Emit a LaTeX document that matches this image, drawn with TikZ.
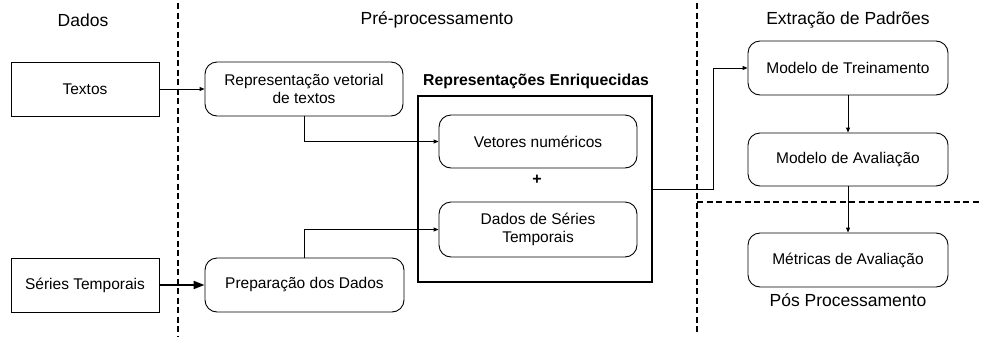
\documentclass[tikz,border=0pt]{standalone}
\usepackage{fontspec}
\setmainfont{Liberation Sans}
\usetikzlibrary{arrows.meta,positioning,calc}
\begin{document}
\begin{tikzpicture}[x=1pt,y=-1pt,
  plainbox/.style={draw,line width=0.9pt,minimum width=148pt,minimum height=54pt,inner sep=0pt,font=\fontsize{15.5}{18}\selectfont,align=center},
  roundbox/.style={draw,line width=0.9pt,rounded corners=12pt,minimum width=198pt,minimum height=54pt,inner sep=0pt,font=\fontsize{15.5}{18}\selectfont,align=center},
  header/.style={font=\fontsize{17.5}{20}\selectfont,inner sep=0pt},
  sep/.style={line width=1.6pt,dash pattern=on 6pt off 3.5pt},
  thinarrow/.style={line width=0.9pt,-{Triangle[length=5pt,width=4pt]}},
  thickarrow/.style={line width=2pt,-{Triangle[length=11pt,width=8pt]}}
]
\useasboundingbox (0,0) rectangle (982,338);
% separators
\coordinate (v1t) at (178,3);
\coordinate (v1b) at (178,336);
\coordinate (v2t) at (697,3);
\coordinate (v2b) at (697,334);
\coordinate (h1l) at (697,202);
\coordinate (h1r) at (982,202);
\draw[sep] (v1t) -- (v1b);
\draw[sep] (v2t) -- (v2b);
\draw[sep] (h1l) -- (h1r);
% headers
\node[header] (hdados) at (83,20) {Dados};
\node[header] (hpre) at (437,20) {Pré-processamento};
\node[header] (hext) at (848,20) {Extração de Padrões};
\node[header] (hpos) at (848,300) {Pós Processamento};
% data boxes
\node[plainbox] (textos) at (85,89) {Textos};
\node[plainbox] (series) at (85,285) {Séries Temporais};
% preprocessing
\node[roundbox] (rep) at (304,89) {Representação vetorial\\de textos};
\node[roundbox,minimum width=199pt] (prep) at (304.5,285) {Preparação dos Dados};
% enriched
\node[draw,line width=2pt,minimum width=234pt,minimum height=186pt,inner sep=0pt] (big) at (535,189) {};
\node[font=\fontsize{15.8}{18}\selectfont\bfseries,inner sep=0pt] (title) at (536,81) {Representações Enriquecidas};
\node[roundbox,minimum height=53pt] (vet) at (538,141.5) {Vetores numéricos};
\node[font=\fontsize{16}{18}\selectfont\bfseries,inner sep=0pt] (plus) at (537,180) {+};
\node[roundbox,minimum height=55pt] (dst) at (538,229.5) {Dados de Séries\\Temporais};
% pattern extraction
\node[roundbox,minimum width=200pt] (mt) at (848,68) {Modelo de Treinamento};
\node[roundbox,minimum width=200pt,minimum height=53pt] (ma) at (848,159.5) {Modelo de Avaliação};
\node[roundbox,minimum width=200pt] (me) at (848,260) {Métricas de Avaliação};
% connectors
\draw[thinarrow] (textos) -- (rep);
\draw[thickarrow] (series) -- (prep);
\draw[thinarrow] (rep.south) |- (vet.west);
\draw[thinarrow] (prep.north) |- (dst.west);
\coordinate (bend) at (713,189);
\draw[thinarrow] (big.east) -- (bend) |- (mt.west);
\draw[thinarrow] (mt) -- (ma);
\draw[thinarrow] (ma) -- (me);
\end{tikzpicture}
\end{document}
